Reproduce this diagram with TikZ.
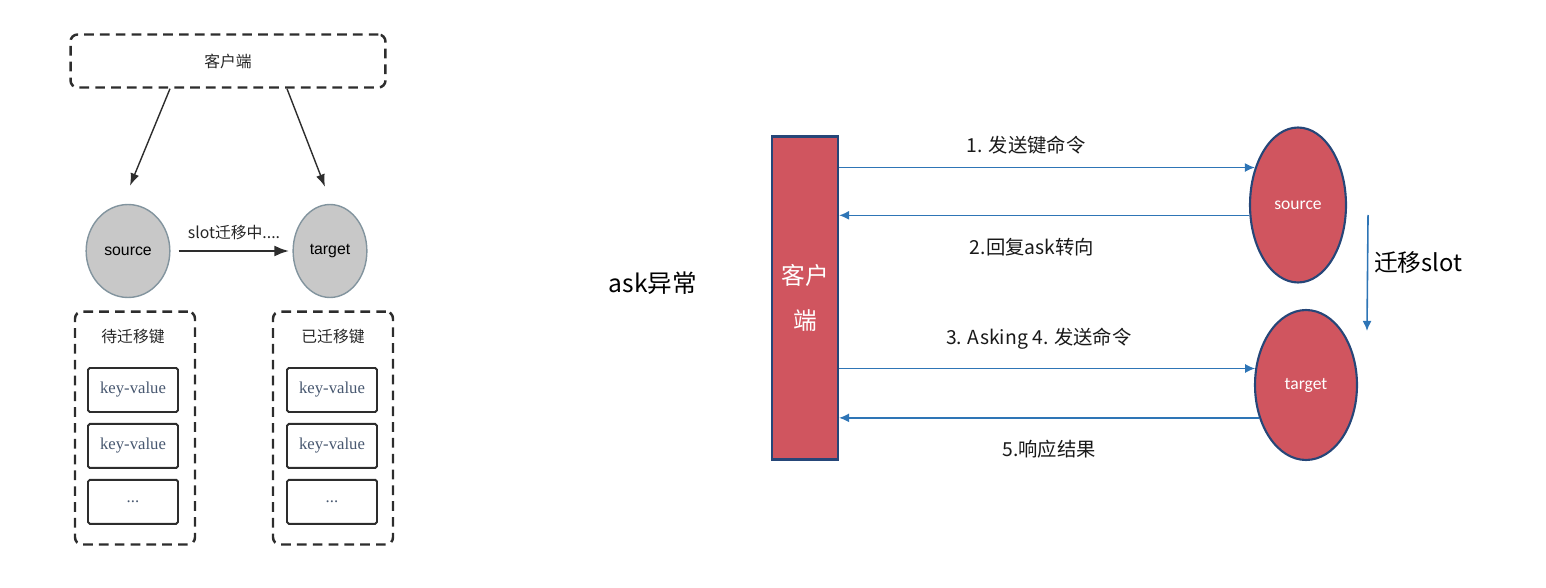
\documentclass[tikz,border=0pt]{standalone}
\usepackage{fontspec}
\setmainfont{Noto Sans CJK SC}
\newfontfamily\kvfont{Liberation Serif}
\newfontfamily\arialfont{Liberation Sans}
\newfontfamily\calibrifont{Carlito}
\usepackage{xcolor}
\usepackage{tikz}
\usetikzlibrary{positioning}
\usetikzlibrary{calc,arrows.meta}
\usetikzlibrary{shapes.geometric}

\definecolor{nodeRed}{RGB}{208,85,95}
\definecolor{nodeBorder}{RGB}{38,70,120}
\definecolor{msgBlue}{RGB}{46,117,182}
\definecolor{nodeGray}{RGB}{200,200,200}
\definecolor{grayBorder}{RGB}{130,148,158}
\definecolor{kvText}{RGB}{72,88,112}
\definecolor{sketch}{RGB}{45,45,45}

\begin{document}
\begin{tikzpicture}[x=0.02cm,y=-0.02cm]
    % Fix the size of the picture
    \useasboundingbox (0,0) rectangle (1546,588);

    % Define the styles
    \tikzset{
        sketch box/.style={draw=sketch, line width=1.4pt, dash pattern=on 5.5pt off 3.5pt, rounded corners=4pt},
        kv box/.style={draw=sketch, line width=1.1pt, rounded corners=1pt, minimum width=1.8cm, minimum height=0.88cm, font=\kvfont\fontsize{9.5}{11}\selectfont, text=kvText},
        gray node/.style={ellipse, draw=grayBorder, fill=nodeGray, line width=0.8pt, minimum width=1.46cm, minimum height=1.86cm, font=\arialfont\fontsize{9}{11}\selectfont},
        red node/.style={ellipse, draw=nodeBorder, fill=nodeRed, line width=1.2pt, text=white, font=\calibrifont\fontsize{10}{12}\selectfont},
        black arrow/.style={-{Latex[length=2.5mm, width=1.8mm]}, draw=sketch, line width=0.8pt},
        thick arrow/.style={-{Latex[length=3mm, width=2.2mm]}, draw=sketch, line width=1.6pt},
        msg arrow/.style={-{Latex[length=2mm, width=1.8mm]}, draw=msgBlue, line width=0.9pt},
        msg label/.style={font=\fontsize{11}{13}\selectfont, text=black!90},
        small label/.style={font=\fontsize{9}{11}\selectfont, text=black!85},
    }

    % Left: the client and the two nodes during migration
    \node[sketch box, minimum width=6.3cm, minimum height=1.06cm, small label] (client) at (228,61) {客户端};
    \node[gray node] (src) at (128,251) {source};
    \node[gray node] (tgt) at (330,251) {target};

    \draw[black arrow] ([xshift=-1.16cm]client.south) -- ([xshift=0.04cm,yshift=0.36cm]src.north);
    \draw[black arrow] ([xshift=1.18cm]client.south) -- ([xshift=-0.1cm,yshift=0.34cm]tgt.north);
    \draw[thick arrow] ([xshift=0.16cm]src.east) -- ([xshift=-0.06cm]tgt.west) node[midway, above=2pt, small label] {slot迁移中....};

    % Keys still to migrate
    \node[sketch box, minimum width=2.4cm, minimum height=4.66cm] (pending) at (135,428) {};
    \node[small label] (pending label) at (133,337) {待迁移键};
    \node[kv box] (pending kv1) at (133,390) {key-value};
    \node[kv box, below=0.2cm of pending kv1] (pending kv2) {key-value};
    \node[kv box, below=0.2cm of pending kv2] (pending kv3) {...};

    % Keys already migrated
    \node[sketch box, minimum width=2.4cm, minimum height=4.66cm] (moved) at (333,428) {};
    \node[small label] (moved label) at (333,337) {已迁移键};
    \node[kv box] (moved kv1) at (332,390) {key-value};
    \node[kv box, below=0.2cm of moved kv1] (moved kv2) {key-value};
    \node[kv box, below=0.2cm of moved kv2] (moved kv3) {...};

    % Right: the ask redirection
    \node[font=\fontsize{14}{16}\selectfont] (ask) at (653,283) {ask异常};
    \node[draw=nodeBorder, fill=nodeRed, line width=1.2pt, minimum width=1.32cm, minimum height=6.46cm, text=white, font=\fontsize{13.5}{26}\selectfont, align=center] (cli) at (805,298) {客户\\端};
    \node[red node, minimum width=1.92cm, minimum height=3.1cm] (rsrc) at (1298,205) {source};
    \node[red node, minimum width=2.04cm, minimum height=3.0cm] (rtgt) at (1306,385) {target};

    % Draw the messages
    \draw[msg arrow] (cli.east |- rsrc.139) -- (rsrc.139) node[msg label, pos=0.45, above=4pt] {1. 发送键命令};
    \draw[msg arrow] (rsrc.192) -- (cli.east |- rsrc.192) node[msg label, pos=0.53, below=0.32cm] {2.回复ask转向};
    \draw[msg arrow] (cli.east |- rtgt.162) -- (rtgt.162) node[msg label, pos=0.48, above=0.26cm] {3. Asking 4. 发送命令};
    \draw[msg arrow] (rtgt.215) -- (cli.east |- rtgt.215) node[msg label, pos=0.5, below=0.32cm] {5.响应结果};

    % Draw the slot migration
    \draw[msg arrow] ([xshift=0.42cm,yshift=-0.2cm]rsrc.east) -- ([xshift=1.22cm,yshift=-0.44cm]rtgt.north) node[pos=0.41, right, font=\fontsize{13.5}{16}\selectfont] {迁移slot};
\end{tikzpicture}
\end{document}
